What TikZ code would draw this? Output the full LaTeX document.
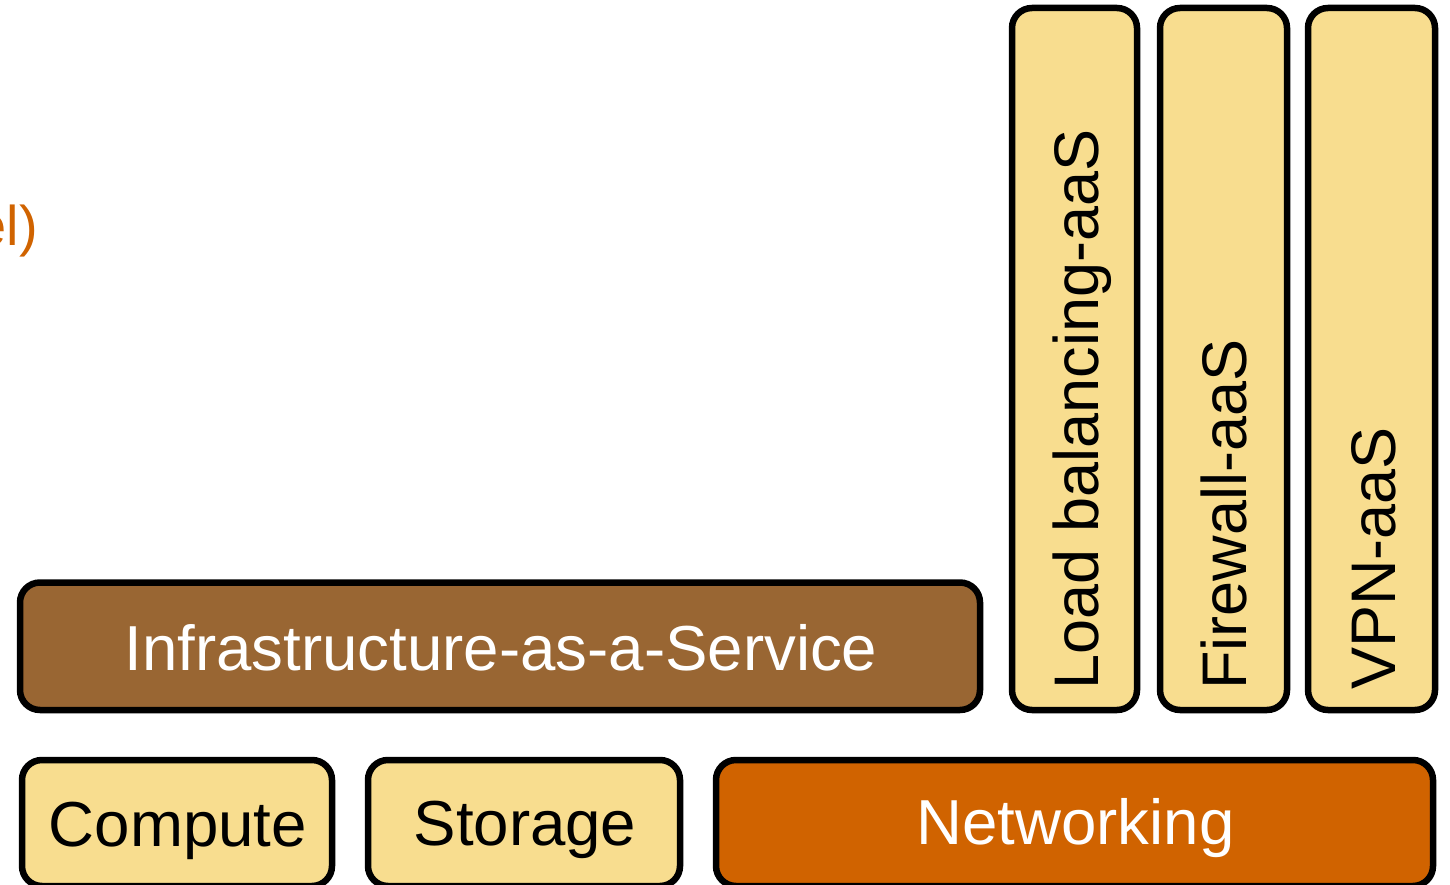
\documentclass[tikz,border=0pt]{standalone}
\usepackage{fontspec}
\setmainfont{Liberation Sans}
\definecolor{paleyellow}{HTML}{F8DD8F}
\definecolor{iaasbrown}{HTML}{996633}
\definecolor{netorange}{HTML}{D06300}
\begin{document}
\begin{tikzpicture}[x=1pt,y=-1pt,
  block/.style={draw=black, line width=6.5pt, rounded corners=20pt,
    inner sep=0pt, outer sep=0pt},
  label/.style={inner sep=0pt, font=\fontsize{63.6}{76}\selectfont},
  vlabel/.style={inner sep=0pt, font=\fontsize{63}{76}\selectfont,
    rotate=90, anchor=base west}]
\useasboundingbox (0,0) rectangle (1450,885);

% caption running in from the left edge
\node[inner sep=0pt, anchor=base east, text=netorange,
  font=\fontsize{56}{66}\selectfont] (cap) at (38,246) {el)};

% service layer
\node[block, fill=iaasbrown, minimum width=960pt, minimum height=127.5pt]
  (iaas) at (500,646.25) {};
\node[label, anchor=base, text=white] (iaastext) at (501,670)
  {Infrastructure-as-a-Service};

% network services
\node[block, fill=paleyellow, minimum width=125pt, minimum height=702pt]
  (lb) at (1074.5,359) {};
\node[block, fill=paleyellow, minimum width=127pt, minimum height=702pt]
  (fw) at (1223.5,359) {};
\node[block, fill=paleyellow, minimum width=127pt, minimum height=702pt]
  (vpn) at (1371.5,359) {};
\node[vlabel] (lbtext) at (1098,690) {Load balancing-aaS};
\node[vlabel] (fwtext) at (1246,690) {Firewall-aaS};
\node[vlabel] (vpntext) at (1395,690) {VPN-aaS};

% resource layer
\node[block, fill=paleyellow, minimum width=310pt, minimum height=126pt]
  (compute) at (177,823) {};
\node[block, fill=paleyellow, minimum width=312pt, minimum height=126pt]
  (storage) at (524,823) {};
\node[block, fill=netorange, minimum width=717pt, minimum height=126pt]
  (net) at (1074.5,823) {};
\node[label, anchor=base] (computetext) at (178,846) {Compute};
\node[label, anchor=base] (storagetext) at (525,845) {Storage};
\node[label, anchor=base, text=white] (nettext) at (1075.5,844) {Networking};
\end{tikzpicture}
\end{document}
